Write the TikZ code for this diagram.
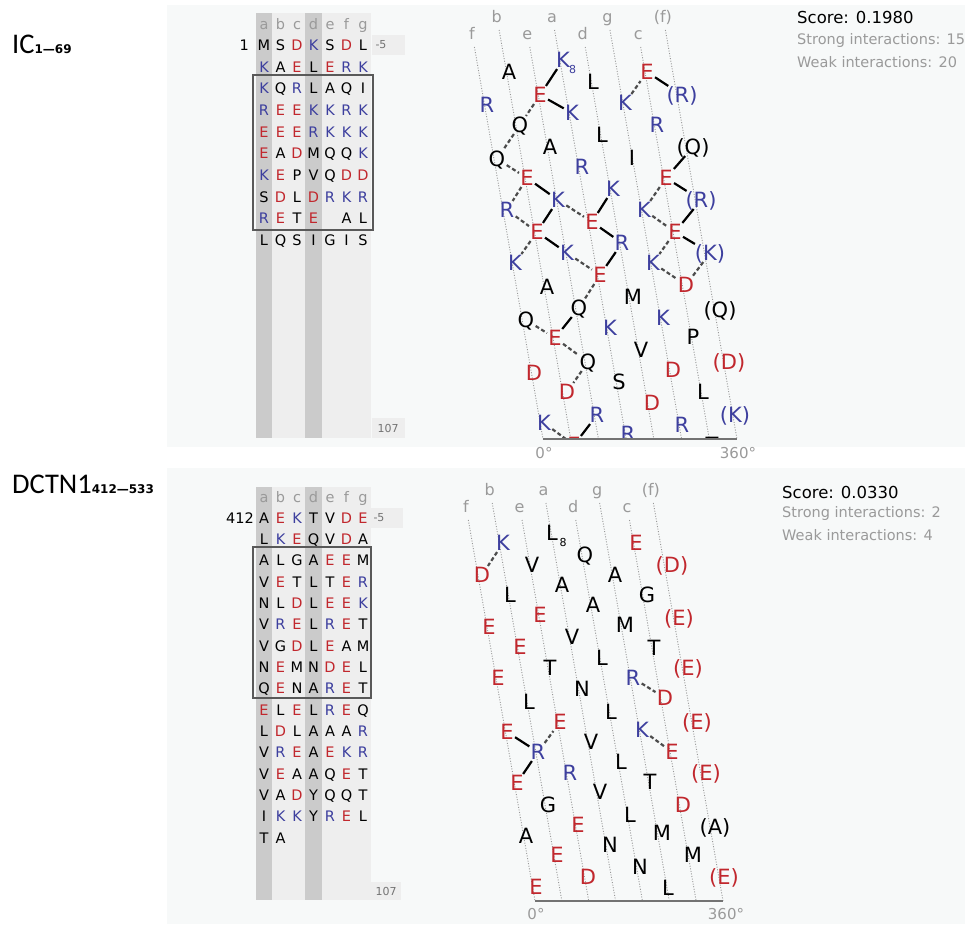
\documentclass[tikz,border=0pt]{standalone}
\usepackage{fontspec}
\setmainfont{DejaVu Sans}
\newfontfamily\labfont{Carlito}
\definecolor{myred}{HTML}{C1272D}
\definecolor{myblue}{HTML}{3D3F9E}
\definecolor{lgray}{HTML}{9A9A9A}
\definecolor{panelbg}{HTML}{F7F9F9}
\definecolor{stripdark}{HTML}{CBCBCB}
\definecolor{striplight}{HTML}{EEEEEE}
\colorlet{rr}{myred}\colorlet{bb}{myblue}\colorlet{kk}{black}
\colorlet{cE}{myred}\colorlet{cD}{myred}\colorlet{cK}{myblue}\colorlet{cR}{myblue}
\colorlet{cA}{black}\colorlet{cG}{black}\colorlet{cI}{black}\colorlet{cL}{black}
\colorlet{cM}{black}\colorlet{cN}{black}\colorlet{cP}{black}\colorlet{cQ}{black}
\colorlet{cS}{black}\colorlet{cT}{black}\colorlet{cV}{black}\colorlet{cY}{black}
\tikzset{
  gl/.style={font=\fontsize{14.5}{15}\selectfont, inner sep=0pt, text height=10.6pt, text depth=0pt},
  hl/.style={font=\fontsize{14.5}{15}\selectfont, text=lgray, inner sep=0pt, anchor=base},
  wl/.style={font=\fontsize{21}{21}\selectfont, inner sep=1.2pt, text height=15.3pt, text depth=0pt},
  wlab/.style={font=\fontsize{16}{16}\selectfont, text=lgray, inner sep=0pt, anchor=base},
  sub8/.style={font=\fontsize{11}{11}\selectfont, inner sep=0pt},
  strong/.style={line width=2.2pt, black},
  weak/.style={line width=2.2pt, black!70, dash pattern=on 4pt off 2.5pt},
  guide/.style={draw=black!40, line width=0.9pt, dash pattern=on 1pt off 1.6pt},
  axisline/.style={draw=black!55, line width=1.6pt},
  deg/.style={font=\fontsize{15}{15}\selectfont, text=lgray, inner sep=0pt},
  score/.style={font=\fontsize{16.5}{17}\selectfont, text=black, inner sep=0pt, anchor=west},
  inter/.style={font=\fontsize{14.5}{15}\selectfont, text=lgray, inner sep=0pt, anchor=west},
  smalltxt/.style={font=\fontsize{11}{11}\selectfont, text=black!55, inner sep=0pt},
  seqbox/.style={draw=black!65, line width=1.5pt},
  protlabel/.style={inner sep=0pt, anchor=base west},
}
\newcommand{\gridstrips}[2]{%
  \foreach \k in {0,...,6} {
    \pgfmathsetmacro\xl{255.75+16.5*\k}
    \ifnum\k=0 \def\sc{stripdark}\else\ifnum\k=3 \def\sc{stripdark}\else\def\sc{striplight}\fi\fi
    \fill[\sc] (\xl,#1) rectangle ({\xl+16.5},#2);
  }
}
\newcommand{\seqrows}[4]{%
  \foreach \row [count=\i from 0] in {#4} {
    \foreach \ltr [count=\j from 0] in \row {
      \if\ltr0\relax\else
        \node[gl, text=c\ltr] (#1-\i-\j) at ({264+16.5*\j}, {#2+#3*\i}) {\ltr};
      \fi
    }
  }
}
\begin{document}
\begin{tikzpicture}[x=1pt,y=-1pt]
\useasboundingbox (0,0) rectangle (965,924);
\fill[white] (0,0) rectangle (965,924);
\fill[panelbg] (167,5) rectangle (965,447);
\fill[panelbg] (167,468) rectangle (965,924);

% protein labels
\node[protlabel] (labIC) at (12,53) {\labfont\fontsize{28.5}{30}\selectfont IC{\rmfamily\bfseries\fontsize{12}{12}\selectfont 1—69}};
\node[protlabel] (labDC) at (12,493) {\labfont\fontsize{28.5}{30}\selectfont DCTN1{\rmfamily\bfseries\fontsize{12}{12}\selectfont 412—533}};

% ===== top grid =====
\gridstrips{13}{438}
\fill[striplight] (372,35) rectangle (405,55);
\node[smalltxt] (m5a) at (381,45) {-5};
\fill[striplight] (372,418) rectangle (405,438);
\node[smalltxt] (n107a) at (388,428) {107};
\foreach \h [count=\j from 0] in {a,b,c,d,e,f,g}
  \node[hl] (tha-\j) at ({264+16.5*\j},29) {\h};
\node[gl, anchor=east] (num1) at (249,45) {1};
\seqrows{ga}{45}{21.7}{{M,S,D,K,S,D,L},{K,A,E,L,E,R,K},{K,Q,R,L,A,Q,I},{R,E,E,K,K,R,K},{E,E,E,R,K,K,K},{E,A,D,M,Q,Q,K},{K,E,P,V,Q,D,D},{S,D,L,D,R,K,R},{R,E,T,E,0,A,L},{L,Q,S,I,G,I,S}}
\draw[seqbox] (253,75) rectangle (373,230);

% ===== bottom grid =====
\gridstrips{487}{900}
\fill[striplight] (371,508) rectangle (403,528);
\node[smalltxt] (m5b) at (379,518) {-5};
\fill[striplight] (368,882) rectangle (401,900);
\node[smalltxt] (n107b) at (386,891) {107};
\foreach \h [count=\j from 0] in {a,b,c,d,e,f,g}
  \node[hl] (thb-\j) at ({264+16.5*\j},502) {\h};
\node[gl, anchor=east] (num412) at (254,518) {412};
\seqrows{gb}{518}{21.33}{{A,E,K,T,V,D,E},{L,K,E,Q,V,D,A},{A,L,G,A,E,E,M},{V,E,T,L,T,E,R},{N,L,D,L,E,E,K},{V,R,E,L,R,E,T},{V,G,D,L,E,A,M},{N,E,M,N,D,E,L},{Q,E,N,A,R,E,T},{E,L,E,L,R,E,Q},{L,D,L,A,A,A,R},{V,R,E,A,E,K,R},{V,E,A,A,Q,E,T},{V,A,D,Y,Q,Q,T},{I,K,K,Y,R,E,L},{T,A}}
\draw[seqbox] (253,547) rectangle (371,698);

% ===== top helical net =====
\begin{scope}
\clip (440,0) rectangle (780,439.5);
\foreach \lab [count=\k from 0] in {f,b,e,a,d,g,c,(f)} {
  \pgfmathsetmacro\ex{543+27.71*\k}
  \pgfmathsetmacro\sy{mod(\k,2)==1 ? 30 : 47}
  \pgfmathsetmacro\sx{\ex-0.175*(439-\sy)}
  \coordinate (tla\k) at (\sx,\sy);
  \coordinate (tlb\k) at (\ex,439);
  \draw[guide] (tla\k) -- (tlb\k);
  \node[wlab] (tlab\k) at ({\sx-2.5},{\sy-8}) {\lab};
}
\foreach \n/\x/\y/\t/\cl in {
 t1/563/60/K/bb, t2/509/72/A/kk, t3/593/82/L/kk, t4/647/72/E/rr,
 t5/487/105/R/bb, t6/540/95/E/rr, t7/572/113/K/bb, t8/625/103/K/bb, t9/682/95/(R)/bb,
 t10/520/125/Q/kk, t11/602/135/L/kk, t12/657/125/R/bb, t13/550/147/A/kk, t14/693/147/(Q)/kk,
 t15/497/159/Q/kk, t16/582/167/R/bb, t17/632/158/I/kk, t18/527/178/E/rr, t19/666/178/E/rr,
 t20/613/189/K/bb, t21/558/200/K/bb, t22/701/200/(R)/bb, t23/507/210/R/bb, t24/644/210/K/bb,
 t25/592/222/E/rr, t26/537/232/E/rr, t27/675/232/E/rr, t28/622/243/R/bb, t29/567/253/K/bb,
 t30/710/253/(K)/bb, t31/515/263/K/bb, t32/653/263/K/bb, t33/600/275/E/rr, t34/686/285/D/rr,
 t35/547/287/A/kk, t36/633/297/M/kk, t37/579/308/Q/kk, t38/720/310/(Q)/kk, t39/526/320/Q/kk,
 t40/663/318/K/bb, t41/610/328/K/bb, t42/555/338/E/rr, t43/693/337/P/kk, t44/641/350/V/kk,
 t45/588/362/Q/kk, t46/729/362/(D)/rr, t47/534/373/D/rr, t48/673/370/D/rr, t49/619/382/S/kk,
 t50/567/392/D/rr, t51/703/392/L/kk, t52/652/403/D/rr, t53/597/415/R/bb, t54/735/415/(K)/bb,
 t55/544/423/K/bb, t56/682/425/R/bb, t57/628/434/R/bb, t58/574/445/E/rr, t59/712/445/T/kk}
  \node[wl, text=\cl] (\n) at (\x,\y) {\t};
\node[sub8, text=myblue] (t1s) at (572.5,69.5) {8};
\foreach \a/\b in {t1/t6, t6/t7, t18/t21, t21/t26, t25/t20, t26/t29, t25/t28, t28/t33,
  t37/t42, t58/t53, t4/t9, t14/t19, t19/t22, t22/t27, t27/t30}
  \draw[strong] (\a) -- (\b);
\foreach \a/\b in {t6/t10, t10/t15, t15/t18, t18/t23, t23/t26, t21/t25, t26/t31, t29/t33,
  t33/t37, t39/t42, t42/t45, t45/t50, t55/t58, t8/t4, t19/t24, t24/t27, t27/t32, t32/t34, t30/t34}
  \draw[weak] (\a) -- (\b);
\end{scope}
\draw[axisline] (tlb0) -- (tlb7);
\node[deg] (d0a) at (544,453) {0°};
\node[deg] (d360a) at (738,453) {360°};
\node[score] (sca) at (797,17) {Score: 0.1980};
\node[inter] (sta) at (797,40) {Strong interactions: 15};
\node[inter] (wea) at (797,62) {Weak interactions: 20};

% ===== bottom helical net =====
\foreach \lab [count=\k from 0] in {f,b,e,a,d,g,c,(f)} {
  \pgfmathsetmacro\ex{535+26.86*\k}
  \pgfmathsetmacro\sy{mod(\k,2)==1 ? 503 : 520}
  \pgfmathsetmacro\sx{\ex-0.175*(901-\sy)}
  \coordinate (bla\k) at (\sx,\sy);
  \coordinate (blb\k) at (\ex,901);
  \draw[guide] (bla\k) -- (blb\k);
  \node[wlab] (blab\k) at ({\sx-2.5},{\sy-7.5}) {\lab};
}
\foreach \n/\x/\y/\t/\cl in {
 b1/552/533/L/kk, b2/503/543/K/bb, b3/636/543/E/rr, b4/585/555/Q/kk, b5/482/575/D/rr,
 b6/532/565/V/kk, b7/615/575/A/kk, b8/672/565/(D)/rr, b9/562/585/A/kk, b10/510/595/L/kk,
 b11/647/595/G/kk, b12/593/605/A/kk, b13/540/615/E/rr, b14/679/618/(E)/rr, b15/489/627/E/rr,
 b16/625/625/M/kk, b17/572/637/V/kk, b18/520/647/E/rr, b19/654/648/T/kk, b20/602/658/L/kk,
 b21/550/668/T/kk, b22/688/668/(E)/rr, b23/498/678/E/rr, b24/633/678/R/bb, b25/582/689/N/kk,
 b26/665/698/D/rr, b27/529/702/L/kk, b28/611/712/L/kk, b29/697/722/(E)/rr, b30/560/722/E/rr,
 b31/507/732/E/rr, b32/642/730/K/bb, b33/538/752/R/bb, b34/591/742/V/kk, b35/672/752/E/rr,
 b36/621/762/L/kk, b37/706/773/(E)/rr, b38/570/773/R/bb, b39/517/783/E/rr, b40/650/782/T/kk,
 b41/600/792/V/kk, b42/548/805/G/kk, b43/683/805/D/rr, b44/630/815/L/kk, b45/578/825/E/rr,
 b46/715/827/(A)/kk, b47/526/836/A/kk, b48/662/833/M/kk, b49/610/845/N/kk, b50/557/855/E/rr,
 b51/693/855/M/kk, b52/640/867/N/kk, b53/588/877/D/rr, b54/724/877/(E)/rr, b55/536/887/E/rr,
 b56/668/888/L/kk}
  \node[wl, text=\cl] (\n) at (\x,\y) {\t};
\node[sub8] (b1s) at (563,542) {8};
\foreach \a/\b in {b31/b33, b33/b39}
  \draw[strong] (\a) -- (\b);
\foreach \a/\b in {b2/b5, b24/b26, b33/b30, b32/b35}
  \draw[weak] (\a) -- (\b);
\draw[axisline] (blb0) -- (blb7);
\node[deg] (d0b) at (536,914) {0°};
\node[deg] (d360b) at (726,914) {360°};
\node[score] (scb) at (782,492) {Score: 0.0330};
\node[inter] (stb) at (782,513) {Strong interactions: 2};
\node[inter] (web) at (782,535) {Weak interactions: 4};
\end{tikzpicture}
\end{document}
